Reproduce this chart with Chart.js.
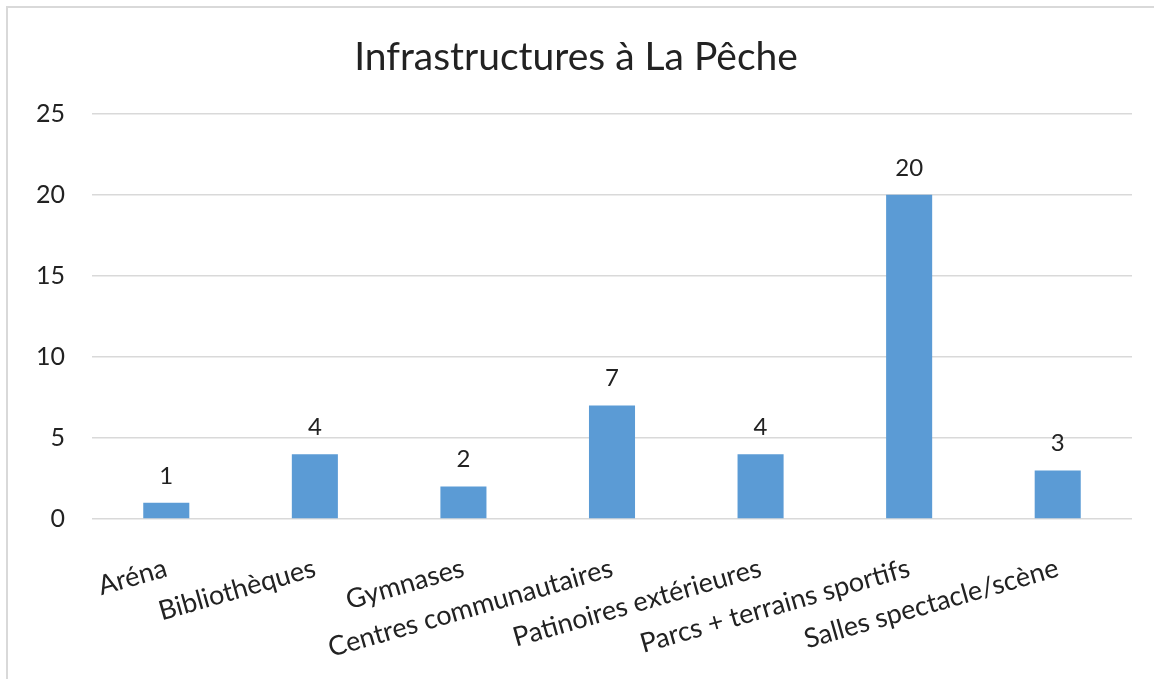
<!DOCTYPE html>
<html>
<head>
<meta charset="utf-8">
<script src="https://cdn.jsdelivr.net/npm/chart.js@4"></script>
<style>
  html, body { margin: 0; padding: 0; background: #fff; }
  #wrap { width: 1154px; height: 679px; }
</style>
</head>
<body>
<div id="wrap"><canvas id="myChart"></canvas></div>
<script>
// Data
const categories = ["Aréna", "Bibliothèques", "Gymnases", "Centres communautaires",
  "Patinoires extérieures", "Parcs + terrains sportifs", "Salles spectacle/scène"];
const values = [1, 4, 2, 7, 4, 20, 3];
const yTicks = [0, 5, 10, 15, 20, 25];

const FONT = 'Lato, "Open Sans", sans-serif';
const TEXT = '#222222';

// Value labels on top of the bars
const valueLabels = {
  id: 'valueLabels',
  afterDatasetsDraw(chart) {
    const { ctx } = chart;
    const meta = chart.getDatasetMeta(0);
    ctx.save();
    ctx.font = '24px ' + FONT;
    ctx.fillStyle = TEXT;
    ctx.textAlign = 'center';
    ctx.textBaseline = 'middle';
    meta.data.forEach((bar, i) => {
      ctx.fillText(String(values[i]), bar.x, bar.y - 27);
    });
    ctx.restore();
  }
};

// Light frame around the chart (only top & left visible in the picture)
const frame = {
  id: 'frame',
  beforeDraw(chart) {
    const { ctx, width, height } = chart;
    ctx.save();
    ctx.strokeStyle = '#d9d9d9';
    ctx.lineWidth = 2;
    ctx.beginPath();
    ctx.moveTo(7, height);
    ctx.lineTo(7, 7);
    ctx.lineTo(width, 7);
    ctx.stroke();
    ctx.restore();
  }
};

new Chart('myChart', {
  type: 'bar',
  data: {
    labels: categories,
    datasets: [{
      data: values,
      backgroundColor: '#5B9BD5',
      barPercentage: 0.31,
      categoryPercentage: 1.0
    }]
  },
  options: {
    responsive: true,
    maintainAspectRatio: false,
    animation: false,
    layout: { padding: { left: 20, right: 22, top: 34, bottom: 0 } },
    plugins: {
      legend: { display: false },
      tooltip: { enabled: false },
      title: {
        display: true,
        text: 'Infrastructures à La Pêche',
        color: TEXT,
        font: { family: FONT, size: 39, weight: 'normal' },
        padding: { top: 0, bottom: 33 }
      }
    },
    scales: {
      x: {
        grid: { display: false },
        border: { display: false },
        ticks: {
          color: TEXT,
          font: { family: FONT, size: 27 },
          minRotation: 16,
          maxRotation: 16,
          autoSkip: false,
          padding: 25
        },
        afterFit(scale) { scale.height = 160; }
      },
      y: {
        min: 0,
        max: 25,
        afterBuildTicks(scale) { scale.ticks = yTicks.map(v => ({ value: v })); },
        grid: { color: '#d9d9d9', lineWidth: 1.5, drawTicks: false },
        border: { display: false },
        ticks: {
          color: TEXT,
          font: { family: FONT, size: 25 },
          padding: 27
        },
        afterFit(scale) { scale.width = 72; }
      }
    }
  },
  plugins: [valueLabels, frame]
});
</script>
</body>
</html>
